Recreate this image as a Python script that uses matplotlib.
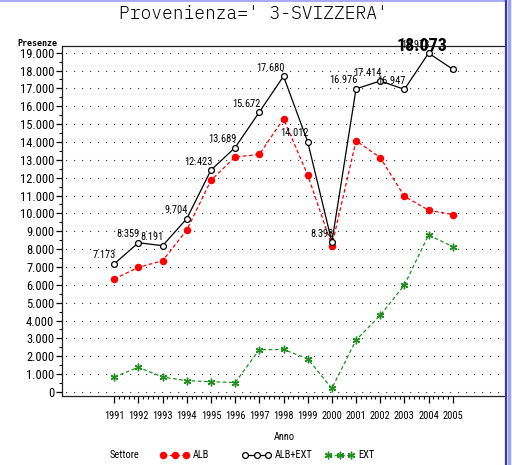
import matplotlib
matplotlib.use("Agg")
import matplotlib.pyplot as plt
from matplotlib.lines import Line2D
from matplotlib.ticker import FixedLocator, MultipleLocator, FuncFormatter

# ─── dati ────────────────────────────────────────────────────────────────
anni = list(range(1991, 2006))
alb = [6330, 6980, 7350, 9070, 11850, 13160, 13300, 15300, 12150, 8198,
       14066, 13124, 10957, 10183, 9933]
alb_ext = [7173, 8359, 8191, 9704, 12423, 13689, 15672, 17680, 14012, 8398,
           16976, 17414, 16947, 18973, 18073]
ext = [843, 1379, 841, 634, 573, 529, 2372, 2380, 1862, 200,
       2910, 4290, 5990, 8790, 8140]
etichette = ["7.173", "8.359", "8.191", "9.704", "12.423", "13.689", "15.672",
             "17.680", "14.012", "8.398", "16.976", "17.414", "16.947",
             "18.973", ""]
y_ticks = list(range(0, 19001, 1000))
titolo = "Provenienza=' 3-SVIZZERA'"

# ─── font ────────────────────────────────────────────────────────────────
NARROW = ["Roboto Condensed", "Liberation Sans", "DejaVu Sans"]
THIN_MONO = ["IBM Plex Mono", "DejaVu Sans Mono"]
MONO = ["DejaVu Sans Mono"]

W, H = 512, 465
fig = plt.figure(figsize=(W / 100, H / 100), dpi=100)
ax = fig.add_axes([62 / W, 1 - 396 / H, (505 - 62) / W, (396 - 46) / H])

# ─── serie ───────────────────────────────────────────────────────────────
st_alb = dict(color="#ff0000", ls=(0, (3, 2)), marker="o", ms=4.4,
              mfc="#ff0000", mec="#ff0000")
st_tot = dict(color="black", ls="-", marker="o", ms=4.2,
              mfc="white", mec="black", mew=0.9)
st_ext = dict(color="#1f8f1f", ls=(0, (3, 2)), marker=(6, 2, 0),
              ms=5.5, mec="#1f8f1f", mew=1.0)

ax.plot(anni, alb, lw=0.9, zorder=3, **st_alb)
ax.plot(anni, alb_ext, lw=0.9, zorder=4, **st_tot)
ax.plot(anni, ext, lw=0.9, zorder=3, **st_ext)

for x, y, t in zip(anni, alb_ext, etichette):
    if t:
        ax.annotate(t, (x, y), xytext=(1, 2.5), textcoords="offset points",
                    ha="right", va="bottom", fontsize=7.5, family=NARROW,
                    zorder=5, annotation_clip=False)

# etichetta sovrapposta in alto (artefatto SAS)
ax.text(2003.73, 19370, "18.073", ha="center", va="center", fontsize=13,
        fontweight="bold", family=NARROW, clip_on=False, zorder=6)

# ─── assi ────────────────────────────────────────────────────────────────
ax.set_xlim(1988.84, 2007.16)
ax.set_ylim(-224, 19373)
ax.spines["right"].set_visible(False)
for s in ("left", "top", "bottom"):
    ax.spines[s].set_linewidth(0.9)
    ax.spines[s].set_color("#222222")

ax.xaxis.set_major_locator(FixedLocator(anni))
ax.xaxis.set_minor_locator(FixedLocator(
    [a + k * 0.2 for a in anni[:-1] for k in range(1, 5)]))
ax.yaxis.set_major_locator(FixedLocator(y_ticks))
ax.yaxis.set_minor_locator(MultipleLocator(500))
ax.yaxis.set_major_formatter(FuncFormatter(lambda v, p: f"{int(v):,}".replace(",", ".")))

ax.tick_params(axis="x", which="major", length=5, width=0.9, pad=6,
               labelsize=7.5)
ax.tick_params(axis="x", which="minor", length=2.5, width=0.8)
ax.tick_params(axis="y", which="major", length=4, width=0.9, pad=1.5,
               labelsize=9)
ax.tick_params(axis="y", which="minor", length=2, width=0.8)
for lab in ax.get_xticklabels() + ax.get_yticklabels():
    lab.set_family(NARROW)

ax.grid(axis="y", which="major", color="#333333", lw=0.8, ls=(4, (1, 6.2)))
ax.set_axisbelow(True)

# ─── testi ───────────────────────────────────────────────────────────────
fig.text(253 / W, 1 - 14 / H, titolo, ha="center", va="center",
         fontsize=13, family=THIN_MONO, fontweight=300, color="black")
fig.text(57 / W, 1 - 44 / H, "Presenze", ha="right", va="center",
         fontsize=6, family=MONO, fontweight="bold")
fig.text(284 / W, 1 - 437 / H, "Anno", ha="center", va="center",
         fontsize=7.5, family=NARROW)

# legenda manuale
ly = 1 - 455 / H
fig.text(110 / W, ly, "Settore", ha="left", va="center", fontsize=7.5,
         family=NARROW)
leg = [("ALB", 161, st_alb), ("ALB+EXT", 243, st_tot), ("EXT", 326, st_ext)]
for nome, x0, st in leg:
    xs = [(x0 + 2 + k * 11.5) / W for k in range(3)]
    fig.add_artist(Line2D(xs, [ly] * 3, lw=0.9, transform=fig.transFigure, **st))
    fig.text((x0 + 32) / W, ly, nome, ha="left", va="center",
             fontsize=7.5, family=NARROW)

# bordo finestra
fig.add_artist(Line2D([0, 505 / W], [1 - 1.5 / H] * 2, color="#9a9af0",
                      lw=1.2, transform=fig.transFigure))
fig.add_artist(Line2D([505.5 / W] * 2, [0, 1], color="#3535b0",
                      lw=1.6, transform=fig.transFigure))
fig.add_artist(Line2D([508.5 / W] * 2, [0, 1], color="#a0a0f5",
                      lw=2.5, transform=fig.transFigure))

fig.savefig("out.png", dpi=100)
